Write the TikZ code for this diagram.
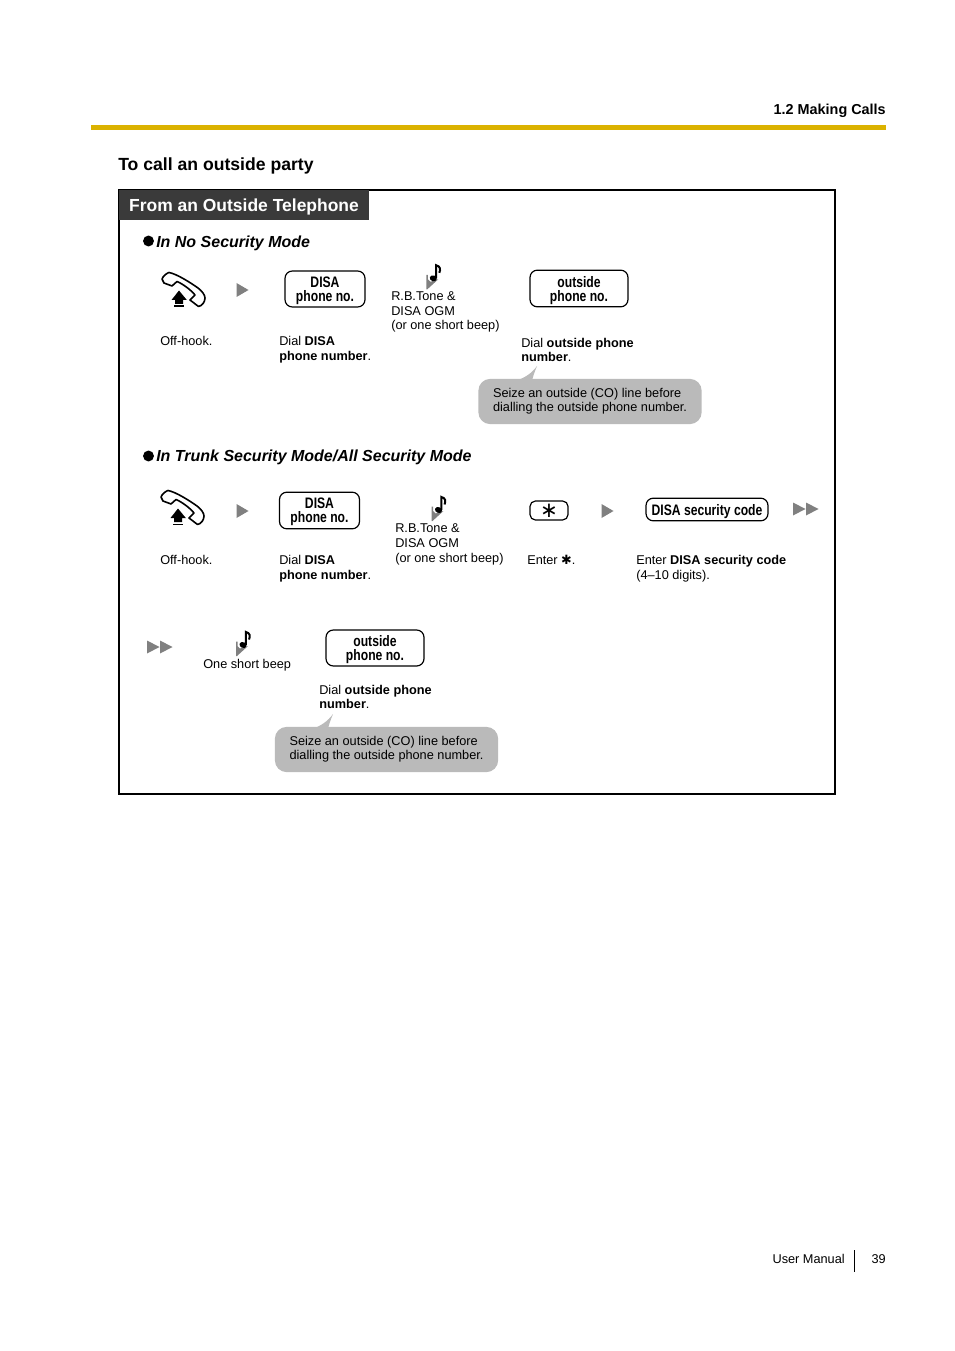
\documentclass[tikz,border=0pt]{standalone}
\usepackage{fontspec}
\setmainfont{Liberation Sans}
\newfontfamily\keyfont[FakeStretch=0.80]{Liberation Sans}
\newfontfamily\symfont{DejaVu Sans}
\usetikzlibrary{positioning}
\definecolor{rulegold}{RGB}{219,178,0}
\definecolor{tabdark}{RGB}{58,58,58}
\definecolor{stepgray}{RGB}{128,128,128}
\definecolor{bubblegray}{RGB}{186,186,186}

\begin{document}
\begin{tikzpicture}[x=0.75pt, y=-0.75pt,
    lbl/.style={font=\fontsize{9.55}{11}\selectfont, anchor=west, align=left, inner sep=0pt},
    heading/.style={font=\fontsize{12}{15}\selectfont\bfseries\itshape, anchor=west, inner sep=0pt},
    keybox/.style={draw, line width=0.9pt, rounded corners=5.5pt, align=center, inner sep=0pt, text depth=0pt,
        font=\fontsize{11.4}{10.5}\selectfont\keyfont\bfseries},
    bubble/.style={fill=bubblegray, rounded corners=9pt, align=left, inner sep=0pt,
        minimum width=167.5pt, minimum height=34pt, font=\fontsize{9.55}{10.5}\selectfont},
    dotmark/.style={circle, fill=black, inner sep=0pt, minimum size=8.2pt},
    play/.pic={\fill[stepgray] (-6,-7) -- (6,0) -- (-6,7) -- cycle;},
    playtwo/.pic={\fill[stepgray] (-12.5,-6.5) -- (0,0) -- (-12.5,6.5) -- cycle;
        \fill[stepgray] (0.5,-6.5) -- (13,0) -- (0.5,6.5) -- cycle;},
    offhook/.pic={
        \draw[line width=1.2pt, fill=white, line join=round]
            (-21,-11) .. controls (-20,-14) and (-16,-17) .. (-14,-17.5)
            .. controls (-6,-16) and (8,-7) .. (15,-2) .. controls (19,1) and (22,5) .. (22,8)
            .. controls (22,12) and (19,16) .. (15.5,16.5) -- (7,10) -- (12,5)
            .. controls (8,0) and (0,-6) .. (-6,-8.5) -- (-11,-4) -- (-19,-7) -- cycle;
        \fill (-4,0.5) -- (3.8,10) -- (0,10) -- (0,14) -- (-8,14) -- (-8,10) -- (-11.5,10) -- cycle;
        \fill (-9.5,15.5) rectangle (0.5,16.8);},
    tonemark/.pic={
        \fill[stepgray] (-7,-3.5) -- (-5.5,-3.5) -- (-5.5,1) -- (-3,3.5) -- (5,1) -- (-6,11) -- (-7,11) -- cycle;
        \fill[rotate around={-20:(0,0)}] (0,0) ellipse (3.6 and 2.9);
        \draw[line width=1.5pt] (2.9,0) -- (2.9,-13) .. controls (7,-12) and (7.5,-9) .. (6,-5.5);},
    ]
    \useasboundingbox (0,0) rectangle (954,1351);

    % page head
    \node[font=\fontsize{10.8}{12}\selectfont\bfseries, anchor=east, inner sep=0pt] (chapter) at (886,111) {1.2 Making Calls};
    \fill[rulegold] (91,125) rectangle (886,130);
    \node[font=\fontsize{13.2}{15}\selectfont\bfseries, anchor=west, inner sep=0pt] (title) at (118,166) {To call an outside party};

    % frame and tab
    \draw[line width=1.4pt] (119,190) rectangle (835,794);
    \node[fill=tabdark, text=white, font=\fontsize{13.1}{15}\selectfont\bfseries, minimum width=187.5pt, minimum height=22.5pt, inner sep=0pt, text depth=0pt] (tab) at (244,205) {From an Outside Telephone};

    % no security mode
    \node[dotmark] (dotA) at (148.5,241) {};
    \node[heading] (modeA) at (156,243) {In No Security Mode};
    \pic at (183,290) {offhook};
    \pic at (242.5,290) {play};
    \node[keybox, minimum width=60pt, minimum height=27pt] (disaA) at (325,289) {DISA\\phone no.};
    \pic at (433.3,278.3) {tonemark};
    \node[keybox, minimum width=73.5pt, minimum height=27.5pt] (outA) at (579,288.5) {outside\\phone no.};
    \node[lbl] (hookA) at (160,340.5) {Off-hook.};
    \node[lbl] (dialA) at (279,350) {Dial \textbf{DISA}\\\textbf{phone number}.};
    \node[lbl] (toneA) at (391,312) {R.B.Tone \&\\DISA OGM\\(or one short beep)};
    \node[lbl] (dialOutA) at (521,350) {Dial \textbf{outside phone}\\\textbf{number}.};
    \fill[bubblegray] (515,381) .. controls (525,378) and (532,373) .. (537,366) .. controls (535,371) and (533,376) .. (532,381) -- cycle;
    \node[bubble] (noteA) at (590,401.5) {Seize an outside (CO) line before\\dialling the outside phone number.};

    % trunk and all security mode
    \node[dotmark] (dotB) at (148.5,456) {};
    \node[heading] (modeB) at (156,457.5) {In Trunk Security Mode/All Security Mode};
    \pic at (182,508) {offhook};
    \pic at (242.5,511) {play};
    \node[keybox, minimum width=60pt, minimum height=27.5pt] (disaB) at (319.5,510.5) {DISA\\phone no.};
    \pic at (438.5,510) {tonemark};
    \node[keybox, rounded corners=4pt, minimum width=28.5pt, minimum height=14.2pt] (starkey) at (549,510.5) {};
    \node[font=\symfont\fontsize{16}{16}\selectfont, inner sep=0pt] (starglyph) at (549,511) {∗};
    \pic at (607.5,511) {play};
    \node[keybox, minimum width=91.5pt, minimum height=17pt] (code) at (707,509.5) {DISA security code};
    \pic at (805.5,509) {playtwo};
    \node[lbl] (hookB) at (160,560) {Off-hook.};
    \node[lbl] (dialB) at (279,568.5) {Dial \textbf{DISA}\\\textbf{phone number}.};
    \node[lbl] (toneB) at (395,544.5) {R.B.Tone \&\\DISA OGM\\(or one short beep)};
    \node[lbl] (enterstar) at (527,560) {Enter {\symfont ✱}.};
    \node[lbl] (entercode) at (636,568.5) {Enter \textbf{DISA security code}\\(4--10 digits).};

    % second row
    \pic at (159.5,647) {playtwo};
    \pic at (243,645) {tonemark};
    \node[lbl] (beep) at (203,665.5) {One short beep};
    \node[keybox, minimum width=73.5pt, minimum height=27pt] (outB) at (375,648) {outside\\phone no.};
    \node[lbl] (dialOutB) at (319,697) {Dial \textbf{outside phone}\\\textbf{number}.};
    \fill[bubblegray] (312,729) .. controls (321,726) and (328,721) .. (333,714) .. controls (331,719) and (329,724) .. (328,729) -- cycle;
    \node[bubble] (noteB) at (386.5,749.5) {Seize an outside (CO) line before\\dialling the outside phone number.};

    % page foot
    \node[font=\fontsize{9.55}{11}\selectfont, anchor=east, inner sep=0pt] (manual) at (845,1259) {User Manual};
    \draw[line width=0.8pt] (854.5,1250) -- (854.5,1272);
    \node[font=\fontsize{9.55}{11}\selectfont, anchor=east, inner sep=0pt] (pageno) at (886,1259) {39};
\end{tikzpicture}
\end{document}
